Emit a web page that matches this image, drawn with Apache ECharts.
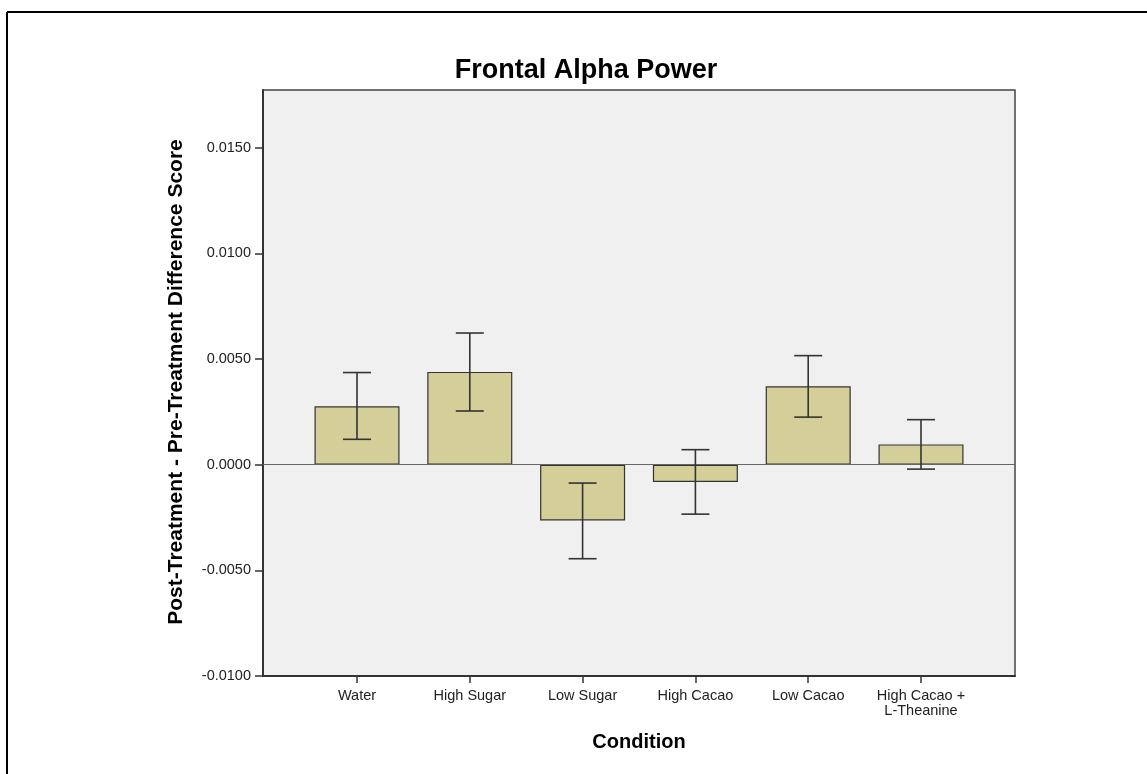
<!DOCTYPE html>
<html>
<head>
<meta charset="utf-8">
<script src="https://cdn.jsdelivr.net/npm/echarts@6/dist/echarts.min.js"></script>
<style>
html,body{margin:0;padding:0;background:#fff;}
#chart{width:1147px;height:774px;}
</style>
</head>
<body>
<div id="chart"></div>
<script>
const categories = ['Water', 'High Sugar', 'Low Sugar', 'High Cacao', 'Low Cacao', 'High Cacao +\nL-Theanine'];
const means  = [0.00276, 0.00439, -0.00264, -0.00082, 0.00371, 0.00096];
const ciLow  = [0.00120, 0.00254, -0.00445, -0.00234, 0.00225, -0.00021];
const ciHigh = [0.00436, 0.00623, -0.00087, 0.00071, 0.00516, 0.00213];
const yTicks = [-0.01, -0.005, 0, 0.005, 0.01, 0.015];
const catPositions = [0, 1, 2, 3, 4, 5];

const FONT = "'Liberation Sans', Arial, sans-serif";
const chart = echarts.init(document.getElementById('chart'));

const option = {
  animation: false,
  backgroundColor: '#ffffff',
  grid: {
    left: 263, top: 90, width: 752, height: 586,
    show: true, backgroundColor: '#f0f0f0', borderColor: '#444', borderWidth: 1.5
  },
  xAxis: {
    type: 'value', min: -0.8333, max: 5.8333,
    splitLine: { show: false },
    axisLine: { show: true, onZero: false, lineStyle: { color: '#333', width: 2 } },
    axisTick: { show: true, customValues: catPositions, length: 7, lineStyle: { color: '#333', width: 1.5 } },
    axisLabel: {
      customValues: catPositions, margin: 12,
      formatter: v => categories[Math.round(v)],
      color: '#222', fontSize: 14.5, fontFamily: FONT, lineHeight: 15.5
    }
  },
  yAxis: {
    type: 'value', min: -0.01, max: 0.01773,
    splitLine: { show: false },
    axisLine: { show: true, onZero: false, lineStyle: { color: '#333', width: 2 } },
    axisTick: { show: true, customValues: yTicks, length: 8, lineStyle: { color: '#333', width: 1.5 } },
    axisLabel: {
      customValues: yTicks, margin: 12,
      formatter: v => v.toFixed(4),
      color: '#222', fontSize: 14.5, fontFamily: FONT
    }
  },
  series: [
    {
      type: 'bar',
      data: means.map((v, i) => [catPositions[i], v]),
      barWidth: 85,
      itemStyle: { color: '#d4cf98', borderColor: '#333', borderWidth: 1.2 },
      markLine: {
        silent: true, symbol: 'none', label: { show: false },
        lineStyle: { color: '#666', width: 1, type: 'solid' },
        data: [{ yAxis: 0 }]
      },
      z: 2
    },
    {
      type: 'custom',
      data: ciLow.map((lo, i) => [catPositions[i], lo, ciHigh[i]]),
      z: 5,
      renderItem: function (params, api) {
        const x = api.value(0);
        const pLo = api.coord([x, api.value(1)]);
        const pHi = api.coord([x, api.value(2)]);
        const half = 14;
        const st = { stroke: '#333', lineWidth: 1.6 };
        return {
          type: 'group',
          children: [
            { type: 'line', shape: { x1: pLo[0], y1: pLo[1], x2: pHi[0], y2: pHi[1] }, style: st },
            { type: 'line', shape: { x1: pLo[0] - half, y1: pLo[1], x2: pLo[0] + half, y2: pLo[1] }, style: st },
            { type: 'line', shape: { x1: pHi[0] - half, y1: pHi[1], x2: pHi[0] + half, y2: pHi[1] }, style: st }
          ]
        };
      }
    }
  ],
  graphic: [
    { type: 'line', shape: { x1: 7, y1: 12, x2: 1147, y2: 12 }, style: { stroke: '#000', lineWidth: 2 } },
    { type: 'line', shape: { x1: 7, y1: 12, x2: 7, y2: 774 }, style: { stroke: '#000', lineWidth: 2 } },
    {
      type: 'text', x: 586, y: 71,
      style: { text: 'Frontal Alpha Power', font: "bold 27px 'Liberation Sans', Arial, sans-serif", fill: '#000', textAlign: 'center', textVerticalAlign: 'middle' }
    },
    {
      type: 'text', x: 176, y: 382, rotation: Math.PI / 2,
      style: { text: 'Post-Treatment - Pre-Treatment Difference Score', font: "bold 21px 'Liberation Sans', Arial, sans-serif", fill: '#000', textAlign: 'center', textVerticalAlign: 'middle' }
    },
    {
      type: 'text', x: 639, y: 742,
      style: { text: 'Condition', font: "bold 20px 'Liberation Sans', Arial, sans-serif", fill: '#000', textAlign: 'center', textVerticalAlign: 'middle' }
    }
  ]
};
chart.setOption(option);
</script>
</body>
</html>
